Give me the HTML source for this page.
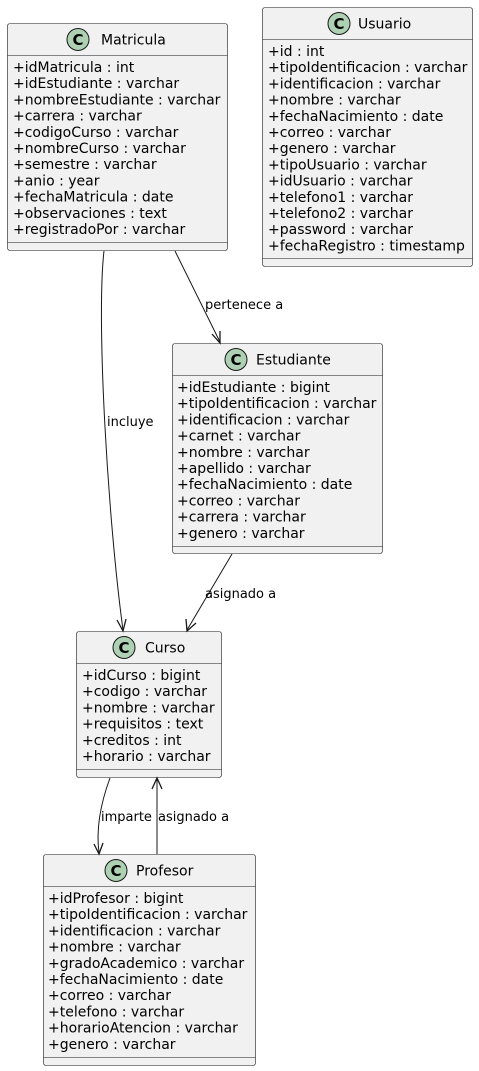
<!DOCTYPE html>
<html><head><meta charset="utf-8"><style>
html,body{margin:0;padding:0;background:#fff;width:479px;height:1071px;overflow:hidden}
svg{display:block}
text{font-family:"DejaVu Sans","Liberation Sans",sans-serif;fill:#000}
.a{font-size:14px}
.t{font-size:14px}
.l{font-size:13px}
.b{fill:#f1f1f1;stroke:#181818;stroke-width:0.6}
.s{stroke:#181818;stroke-width:0.6}
.e{fill:none;stroke:#181818;stroke-width:1}
.ar{fill:none;stroke:#181818;stroke-width:1.3}
</style></head><body>
<svg width="479" height="1071" xmlns="http://www.w3.org/2000/svg">
<!-- Matricula -->
<rect class="b" x="7.5" y="23.5" width="220" height="227" rx="2.5"/>
<line class="s" x1="7.5" y1="55.5" x2="227.5" y2="55.5"/>
<line class="s" x1="7.5" y1="242.5" x2="227.5" y2="242.5"/>
<circle cx="78" cy="39.5" r="11" fill="#add1b2" stroke="#181818" stroke-width="1"/>
<text x="78" y="45" text-anchor="middle" style="font-size:15px;font-weight:bold">C</text>
<text class="t" x="101" y="44.5">Matricula</text>
<text class="a" x="13" y="72">+idMatricula : int</text>
<text class="a" x="13" y="88.2">+idEstudiante : varchar</text>
<text class="a" x="13" y="104.4">+nombreEstudiante : varchar</text>
<text class="a" x="13" y="120.6">+carrera : varchar</text>
<text class="a" x="13" y="136.8">+codigoCurso : varchar</text>
<text class="a" x="13" y="153">+nombreCurso : varchar</text>
<text class="a" x="13" y="169.2">+semestre : varchar</text>
<text class="a" x="13" y="185.4">+anio : year</text>
<text class="a" x="13" y="201.6">+fechaMatricula : date</text>
<text class="a" x="13" y="217.8">+observaciones : text</text>
<text class="a" x="13" y="234">+registradoPor : varchar</text>

<!-- Usuario -->
<rect class="b" x="262.5" y="7.5" width="210" height="259" rx="2.5"/>
<line class="s" x1="262.5" y1="39.5" x2="472.5" y2="39.5"/>
<line class="s" x1="262.5" y1="258.5" x2="472.5" y2="258.5"/>
<circle cx="339" cy="23.5" r="11" fill="#add1b2" stroke="#181818" stroke-width="1"/>
<text x="339" y="29" text-anchor="middle" style="font-size:15px;font-weight:bold">C</text>
<text class="t" x="358" y="28.5">Usuario</text>
<text class="a" x="268" y="56">+id : int</text>
<text class="a" x="268" y="72.2">+tipoIdentificacion : varchar</text>
<text class="a" x="268" y="88.4">+identificacion : varchar</text>
<text class="a" x="268" y="104.6">+nombre : varchar</text>
<text class="a" x="268" y="120.8">+fechaNacimiento : date</text>
<text class="a" x="268" y="137">+correo : varchar</text>
<text class="a" x="268" y="153.2">+genero : varchar</text>
<text class="a" x="268" y="169.4">+tipoUsuario : varchar</text>
<text class="a" x="268" y="185.6">+idUsuario : varchar</text>
<text class="a" x="268" y="201.8">+telefono1 : varchar</text>
<text class="a" x="268" y="218">+telefono2 : varchar</text>
<text class="a" x="268" y="234.2">+password : varchar</text>
<text class="a" x="268" y="250.4">+fechaRegistro : timestamp</text>

<!-- Estudiante -->
<rect class="b" x="172.5" y="343.5" width="210" height="210" rx="2.5"/>
<line class="s" x1="172.5" y1="375.5" x2="382.5" y2="375.5"/>
<line class="s" x1="172.5" y1="546.5" x2="382.5" y2="546.5"/>
<circle cx="236" cy="359.5" r="11" fill="#add1b2" stroke="#181818" stroke-width="1"/>
<text x="236" y="365" text-anchor="middle" style="font-size:15px;font-weight:bold">C</text>
<text class="t" x="256" y="364.5">Estudiante</text>
<text class="a" x="177" y="392">+idEstudiante : bigint</text>
<text class="a" x="177" y="408.2">+tipoIdentificacion : varchar</text>
<text class="a" x="177" y="424.4">+identificacion : varchar</text>
<text class="a" x="177" y="440.6">+carnet : varchar</text>
<text class="a" x="177" y="456.8">+nombre : varchar</text>
<text class="a" x="177" y="473">+apellido : varchar</text>
<text class="a" x="177" y="489.2">+fechaNacimiento : date</text>
<text class="a" x="177" y="505.4">+correo : varchar</text>
<text class="a" x="177" y="521.6">+carrera : varchar</text>
<text class="a" x="177" y="537.8">+genero : varchar</text>

<!-- Curso -->
<rect class="b" x="76.5" y="631.5" width="145" height="146" rx="2.5"/>
<line class="s" x1="76.5" y1="663.5" x2="221.5" y2="663.5"/>
<line class="s" x1="76.5" y1="769.5" x2="221.5" y2="769.5"/>
<circle cx="124" cy="647.5" r="11" fill="#add1b2" stroke="#181818" stroke-width="1"/>
<text x="124" y="653" text-anchor="middle" style="font-size:15px;font-weight:bold">C</text>
<text class="t" x="145" y="652.5">Curso</text>
<text class="a" x="82" y="680">+idCurso : bigint</text>
<text class="a" x="82" y="696.2">+codigo : varchar</text>
<text class="a" x="82" y="712.4">+nombre : varchar</text>
<text class="a" x="82" y="728.6">+requisitos : text</text>
<text class="a" x="82" y="744.8">+creditos : int</text>
<text class="a" x="82" y="761">+horario : varchar</text>

<!-- Profesor -->
<rect class="b" x="43.5" y="854.5" width="212" height="211" rx="2.5"/>
<line class="s" x1="43.5" y1="886.5" x2="255.5" y2="886.5"/>
<line class="s" x1="43.5" y1="1057.5" x2="255.5" y2="1057.5"/>
<circle cx="116" cy="870.5" r="11" fill="#add1b2" stroke="#181818" stroke-width="1"/>
<text x="116" y="876" text-anchor="middle" style="font-size:15px;font-weight:bold">C</text>
<text class="t" x="136" y="875.5">Profesor</text>
<text class="a" x="48" y="903">+idProfesor : bigint</text>
<text class="a" x="48" y="919.2">+tipoIdentificacion : varchar</text>
<text class="a" x="48" y="935.4">+identificacion : varchar</text>
<text class="a" x="48" y="951.6">+nombre : varchar</text>
<text class="a" x="48" y="967.8">+gradoAcademico : varchar</text>
<text class="a" x="48" y="984">+fechaNacimiento : date</text>
<text class="a" x="48" y="1000.2">+correo : varchar</text>
<text class="a" x="48" y="1016.4">+telefono : varchar</text>
<text class="a" x="48" y="1032.6">+horarioAtencion : varchar</text>
<text class="a" x="48" y="1048.8">+genero : varchar</text>

<!-- Edges -->
<path class="e" d="M104,251 C96,320 108,520 123,630"/>
<path class="ar" d="M117,620 L123,631 L126,619"/>
<text class="l" x="107" y="426">incluye</text>

<path class="e" d="M175,251 L220,342"/>
<path class="ar" d="M212,334 L220,343 L220,331"/>
<text class="l" x="205" y="309">pertenece a</text>

<path class="e" d="M232,554 L187,630"/>
<path class="ar" d="M186,619 L187,631 L196,623"/>
<text class="l" x="205" y="598">asignado a</text>

<path class="e" d="M110,778 C100,805 96,830 99,853"/>
<path class="ar" d="M94,844 L99,854 L103,843"/>
<text class="l" x="101" y="821">imparte</text>

<path class="e" d="M157,854 L157,779"/>
<path class="ar" d="M152,789 L157,778 L162,789"/>
<text class="l" x="158" y="821">asignado a</text>
</svg>
</body></html>
